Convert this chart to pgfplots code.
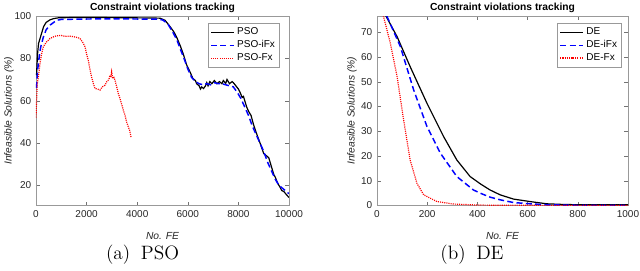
\documentclass[border=0pt]{standalone}
\usepackage{fontspec}
\usepackage{pgfplots}
\pgfplotsset{compat=1.18}
\newfontfamily\arial{Liberation Sans}
\definecolor{txt}{HTML}{262626}
\definecolor{mblue}{HTML}{0000FF}
\definecolor{mred}{HTML}{FF0000}
\pgfplotsset{
  mystyle/.style={
    scale only axis,
    anchor=south west,
    axis line style={black!40},
    tick style={black!55},
    tick align=inside,
    major tick length=3pt,
    font=\arial\fontsize{7.5}{9}\selectfont,
    /pgf/number format/assume math mode=true,
    ticklabel style={font=\arial\fontsize{7.5}{9}\selectfont, text=txt},
    scaled ticks=false,
    xticklabel style={/pgf/number format/1000 sep={}},
    every axis title shift=0pt,
    title style={font=\arial\bfseries\fontsize{7.7}{9}\selectfont, text=black, at={(axis description cs:0.5,1.027)}, anchor=base},
    xlabel style={font=\arial\itshape\fontsize{7.7}{9}\selectfont, text=txt, at={(axis description cs:0.5,-0.16)}, anchor=center},
    ylabel style={font=\arial\itshape\fontsize{7.7}{9}\selectfont, text=txt},
    title={Constraint violations tracking},
    xlabel={No. FE},
    ylabel={Infeasible Solutions (\%)},
    legend cell align=left,
    legend style={draw=black!40, font=\arial\fontsize{7.5}{9}\selectfont, inner sep=1.5pt, row sep=-1.2pt, anchor=north east},
  }
}
\begin{document}
\begin{tikzpicture}
\useasboundingbox (0pt,0pt) rectangle (480pt,203.25pt);
\begin{axis}[mystyle,
  at={(27pt,49.1pt)}, width=189.75pt, height=142.1pt,
  xmin=0, xmax=10000, ymin=10.4, ymax=100,
  xtick={0,2000,4000,6000,8000,10000},
  ytick={20,40,60,80,100},
  ylabel style={at={(axis description cs:-0.107,0.5)}, anchor=center, rotate=0},
  legend style={at={(axis description cs:0.964,0.963)}},
]
\addplot[color=black, line width=0.9pt] coordinates {
(20,72)(60,82)(100,87)(150,89)(200,91)(300,95)(400,97)(550,98.2)(700,98.8)(900,99.2)(1500,99.3)(2500,99.3)(3500,99.2)(4500,99.1)(4900,99)(5100,98)(5300,95)(5450,92.5)(5560,90)(5700,86)(5823,82)(5950,77)(6087,73.6)(6200,70.5)(6300,69.5)(6350,68)(6450,67)(6500,65.5)(6550,66.5)(6620,65.7)(6700,67)(6750,68.5)(6800,67)(6870,69)(6950,68)(7050,69.5)(7150,68)(7250,69)(7350,68)(7403,69.5)(7500,68.2)(7550,70)(7650,68)(7750,69)(7800,68.5)(7900,67)(8000,65.5)(8063,64)(8150,61.5)(8200,62)(8327,57)(8400,55)(8500,53)(8590,49)(8700,45)(8854,40)(9000,35)(9100,34)(9200,33)(9300,29)(9400,25)(9450,24)(9550,21)(9650,19)(9711,17.5)(9800,17)(9900,15.5)(10000,14.2)
};
\addlegendentry{PSO}
\addplot[color=mblue, line width=1.1pt, dash pattern=on 4.5pt off 2.5pt] coordinates {
(20,66)(60,74)(100,78)(150,83)(200,86)(290,90)(400,93.5)(553,95.7)(700,97)(818,98)(1000,98.4)(2000,98.6)(3000,98.7)(4000,98.6)(4800,98.5)(5000,98.2)(5200,96.5)(5400,92.5)(5560,89)(5700,84.5)(5850,80)(6000,75)(6150,71)(6300,69)(6450,68)(6600,67.5)(6750,68)(6900,67.5)(7050,68.5)(7200,68)(7350,68)(7500,67.5)(7650,67)(7800,66.5)(7950,64)(8100,61)(8250,57)(8400,53)(8550,48)(8700,44)(8850,40)(9000,36)(9150,31)(9300,27)(9450,23)(9600,20)(9750,18.5)(9900,17)(10000,16)
};
\addlegendentry{PSO-iFx}
\addplot[color=mred, line width=0.9pt, dash pattern=on 0.8pt off 0.8pt] coordinates {
(0,52)(30,62)(51,68)(91,71)(158,77.6)(220,82)(290,85.5)(400,87.5)(553,89.4)(700,90.2)(818,90.7)(1000,90.8)(1150,90.4)(1344,90.5)(1500,90.2)(1650,89.8)(1739,89.4)(1850,87.5)(1937,85.5)(2000,82)(2068,79)(2130,75)(2200,71)(2270,68)(2332,65.7)(2430,65.5)(2530,65)(2620,66.5)(2727,67.3)(2800,69)(2880,70)(2925,72)(2960,71)(2990,73.6)(3030,70.5)(3080,71)(3122,69.7)(3190,66.5)(3255,63.4)(3320,61)(3380,58.5)(3452,55.5)(3520,53)(3580,50)(3650,47.5)(3700,46)(3755,42.8)
};
\addlegendentry{PSO-Fx}
\end{axis}
\begin{axis}[mystyle,
  at={(282.75pt,49.1pt)}, width=188.25pt, height=142.1pt,
  xmin=0, xmax=1000, ymin=0, ymax=76.5,
  xtick={0,200,400,600,800,1000},
  ytick={0,10,20,30,40,50,60,70},
  ylabel style={at={(axis description cs:-0.1,0.5)}, anchor=center, rotate=0},
  legend style={at={(axis description cs:0.976,0.963)}},
]
\addplot[color=black, line width=0.9pt] coordinates {
(20,80)(33,77)(80,68.2)(132,56.1)(199,41.3)(265,27.9)(318,18.4)(371,11.7)(411,8.8)(450,6.3)(491,4.3)(544,2.6)(610,1.6)(676,0.7)(750,0.4)(850,0.3)(1000,0.3)
};
\addlegendentry{DE}
\addplot[color=mblue, line width=1.1pt, dash pattern=on 4.5pt off 2.5pt] coordinates {
(25,80)(40,76.3)(93,64.2)(146,46.7)(199,31.9)(252,21.2)(318,11.7)(384,6.3)(411,5)(450,3.4)(491,2.3)(544,1.2)(610,0.7)(676,0.3)(800,0.1)(1000,0.1)
};
\addlegendentry{DE-iFx}
\addplot[color=mred, line width=0.9pt, dash pattern=on 0.8pt off 0.8pt] coordinates {
(15,80)(26,76.3)(53,65.6)(80,52.1)(106,34.6)(132,18.4)(159,9)(186,4.3)(239,1.6)(305,0.6)(400,0.2)(500,0.1)(1000,0)
};
\addlegendentry{DE-Fx}
\end{axis}
\node[font=\fontsize{14.5}{16}\selectfont] at (106.9pt,12.5pt) {(a)\hspace{0.55em}PSO};
\node[font=\fontsize{14.5}{16}\selectfont] at (354pt,12.5pt) {(b)\hspace{0.55em}DE};
\end{tikzpicture}
\end{document}
